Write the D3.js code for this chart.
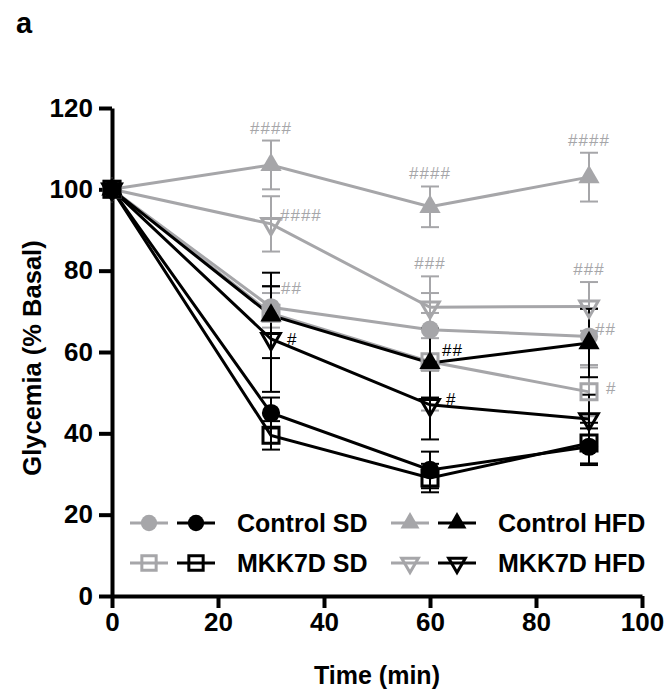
<!DOCTYPE html>
<html>
<head>
<meta charset="utf-8">
<script src="https://cdn.jsdelivr.net/npm/d3@7"></script>
<style>
    body { margin: 0; background: white; }
    svg { display: block; font-family: "Liberation Sans", Arial, sans-serif; }
</style>
</head>
<body>
<svg width="667" height="693"></svg>
<script>
// time points (min)
const times = [0, 30, 60, 90]

// gray group: means and error
const grayControlSD = [100, 71, 65.5, 63.8]
const grayControlSDErr = [0, 5, 9, 7]
const grayControlHFD = [100, 106, 95.7, 103]
const grayControlHFDErr = [0, 6, 5, 6]
const grayMkkSD = [100, 69.5, 57.6, 50.2]
const grayMkkSDErr = [0, 5, 12, 6]
const grayMkkHFD = [100, 91.5, 71, 71.2]
const grayMkkHFDErr = [0, 6.8, 7.6, 6]

// black group: means and error
const blackControlSD = [100, 45, 31, 36.7]
const blackControlSDErr = [0, 3.8, 4.5, 4.5]
const blackControlHFD = [100, 69, 57.3, 62.2]
const blackControlHFDErr = [0, 10.5, 8.5, 8.4]
const blackMkkSD = [100, 39.5, 29, 37.6]
const blackMkkSDErr = [0, 3.5, 3.5, 5]
const blackMkkHFD = [100, 63.2, 47, 43.5]
const blackMkkHFDErr = [0, 13, 8.5, 6]

const legendNames = ["Control SD", "Control HFD", "MKK7D SD", "MKK7D HFD"]
const xTicks = [0, 20, 40, 60, 80, 100]
const yTicks = [0, 20, 40, 60, 80, 100, 120]

// significance marks: which series, which time, text
const marks = [
    {key: "gCHFD", t: 1, text: "####", pos: "top"},
    {key: "gCHFD", t: 2, text: "####", pos: "top"},
    {key: "gCHFD", t: 3, text: "####", pos: "top"},
    {key: "gMHFD", t: 2, text: "###", pos: "top"},
    {key: "gMHFD", t: 3, text: "###", pos: "top"},
    {key: "gMHFD", t: 1, text: "####", pos: "side", dx: 9, dy: -9},
    {key: "gCSD", t: 1, text: "##", pos: "side", dx: 10, dy: -19},
    {key: "gCSD", t: 3, text: "##", pos: "side", dx: 6, dy: -8},
    {key: "gMSD", t: 3, text: "#", pos: "side", dx: 17, dy: -4},
    {key: "bMHFD", t: 1, text: "#", pos: "side", dx: 16, dy: 0},
    {key: "bCHFD", t: 2, text: "##", pos: "side", dx: 12, dy: -13},
    {key: "bMHFD", t: 2, text: "#", pos: "side", dx: 16, dy: -6}
]

const gray = "#a6a6a9"
const black = "#000000"

const series = [
    {key: "gCSD", values: grayControlSD, err: grayControlSDErr, color: gray, shape: "circle"},
    {key: "gMSD", values: grayMkkSD, err: grayMkkSDErr, color: gray, shape: "square"},
    {key: "gMHFD", values: grayMkkHFD, err: grayMkkHFDErr, color: gray, shape: "down"},
    {key: "gCHFD", values: grayControlHFD, err: grayControlHFDErr, color: gray, shape: "up"},
    {key: "bMHFD", values: blackMkkHFD, err: blackMkkHFDErr, color: black, shape: "down"},
    {key: "bCHFD", values: blackControlHFD, err: blackControlHFDErr, color: black, shape: "up"},
    {key: "bMSD", values: blackMkkSD, err: blackMkkSDErr, color: black, shape: "square"},
    {key: "bCSD", values: blackControlSD, err: blackControlSDErr, color: black, shape: "circle"}
]

const svg = d3.select("svg")

const scaleX = d3.scaleLinear().domain([0, 100]).range([112, 642])
const scaleY = d3.scaleLinear().domain([0, 120]).range([596, 108])

// marker drawing helper
const symbolPath = function (shape, scale) {
    if (shape === "circle") return d3.symbol(d3.symbolCircle, 260 * scale)()
    if (shape === "square") return d3.symbol(d3.symbolSquare, 256 * scale)()
    if (shape === "up") return d3.symbol(d3.symbolTriangle, 195 * scale)()
    return d3.symbol(d3.symbolTriangle, 150 * scale)()
}
const isOpen = shape => shape === "square" || shape === "down"

const addMarker = function (g, s, x, y, scale) {
    g.append("path")
        .attr("d", symbolPath(s.shape, scale))
        .attr("transform", `translate(${x}, ${y})` + (s.shape === "down" ? " rotate(180)" : ""))
        .attr("fill", isOpen(s.shape) ? "none" : s.color)
        .attr("stroke", isOpen(s.shape) ? s.color : "none")
        .attr("stroke-width", 3)
}

// axes
const axisX = d3.axisBottom(scaleX)
    .tickValues(xTicks)
    .tickSize(12)
    .tickSizeOuter(0)
    .tickPadding(5)
const axisY = d3.axisLeft(scaleY)
    .tickValues(yTicks)
    .tickSize(13)
    .tickSizeOuter(0)
    .tickPadding(6)

const axisXGroup = svg.append("g")
    .attr("transform", `translate(0, ${scaleY(0)})`)
    .call(axisX)
const axisYGroup = svg.append("g")
    .attr("transform", `translate(${scaleX(0)}, 0)`)
    .call(axisY)

svg.selectAll(".domain, .tick line")
    .attr("stroke", "black")
    .attr("stroke-width", 4)
svg.selectAll(".tick text")
    .attr("fill", "black")
    .style("font-size", "26px")
    .style("font-weight", "bold")
    .style("font-family", "'Liberation Sans', Arial, sans-serif")

svg.append("text")
    .attr("x", 377)
    .attr("y", 684)
    .attr("text-anchor", "middle")
    .style("font-size", "25px")
    .style("font-weight", "bold")
    .text("Time (min)")

svg.append("text")
    .attr("transform", "translate(41, 358) rotate(-90)")
    .attr("text-anchor", "middle")
    .style("font-size", "25.5px")
    .style("font-weight", "bold")
    .text("Glycemia (% Basal)")

svg.append("text")
    .attr("x", 16)
    .attr("y", 33)
    .style("font-size", "29px")
    .style("font-weight", "bold")
    .text("a")

// data
const line = d3.line()
    .x((d, i) => scaleX(times[i]))
    .y(d => scaleY(d))

const plot = svg.append("g")

series.forEach(s => {
    const g = plot.append("g").attr("class", "series")
    g.append("path")
        .attr("d", line(s.values))
        .attr("fill", "none")
        .attr("stroke", s.color)
        .attr("stroke-width", 3)

    s.values.forEach((v, i) => {
        const e = s.err[i]
        if (e > 0) {
            const x = scaleX(times[i])
            g.append("line")
                .attr("x1", x).attr("x2", x)
                .attr("y1", scaleY(v - e)).attr("y2", scaleY(v + e))
                .attr("stroke", s.color).attr("stroke-width", 2)
            ;[v - e, v + e].forEach(c => {
                g.append("line")
                    .attr("x1", x - 9).attr("x2", x + 9)
                    .attr("y1", scaleY(c)).attr("y2", scaleY(c))
                    .attr("stroke", s.color).attr("stroke-width", 2)
            })
        }
    })
})

series.forEach(s => {
    const g = plot.append("g")
    s.values.forEach((v, i) => addMarker(g, s, scaleX(times[i]), scaleY(v), 1))
})

// significance marks
marks.forEach(m => {
    const s = series.find(d => d.key === m.key)
    const x = scaleX(times[m.t])
    const v = s.values[m.t]
    const t = svg.append("text")
        .attr("fill", s.color)
        .style("font-size", "17px")
        .style("letter-spacing", "1px")
        .text(m.text)
    if (m.pos === "top") {
        t.attr("x", x).attr("y", scaleY(v + s.err[m.t]) - 7).attr("text-anchor", "middle")
    } else {
        t.attr("x", x + m.dx).attr("y", scaleY(v) + m.dy + 6)
    }
})

// legend
const legendRows = [
    [{shape: "circle", name: legendNames[0]}, {shape: "up", name: legendNames[1]}],
    [{shape: "square", name: legendNames[2]}, {shape: "down", name: legendNames[3]}]
]
const legendCols = [130, 391]
const legendY = [523, 563]

legendRows.forEach((row, r) => {
    row.forEach((item, c) => {
        const g = svg.append("g")
            .attr("transform", `translate(${legendCols[c]}, ${legendY[r]})`)
        ;[gray, black].forEach((color, k) => {
            const x0 = k * 47
            g.append("line")
                .attr("x1", x0).attr("x2", x0 + 38)
                .attr("y1", 0).attr("y2", 0)
                .attr("stroke", color).attr("stroke-width", 3)
            addMarker(g, {shape: item.shape, color: color}, x0 + 19, 0, 0.8)
        })
        g.append("text")
            .attr("x", 107)
            .attr("y", 9)
            .style("font-size", "25px")
            .style("font-weight", "bold")
            .text(item.name)
    })
})
</script>
</body>
</html>
